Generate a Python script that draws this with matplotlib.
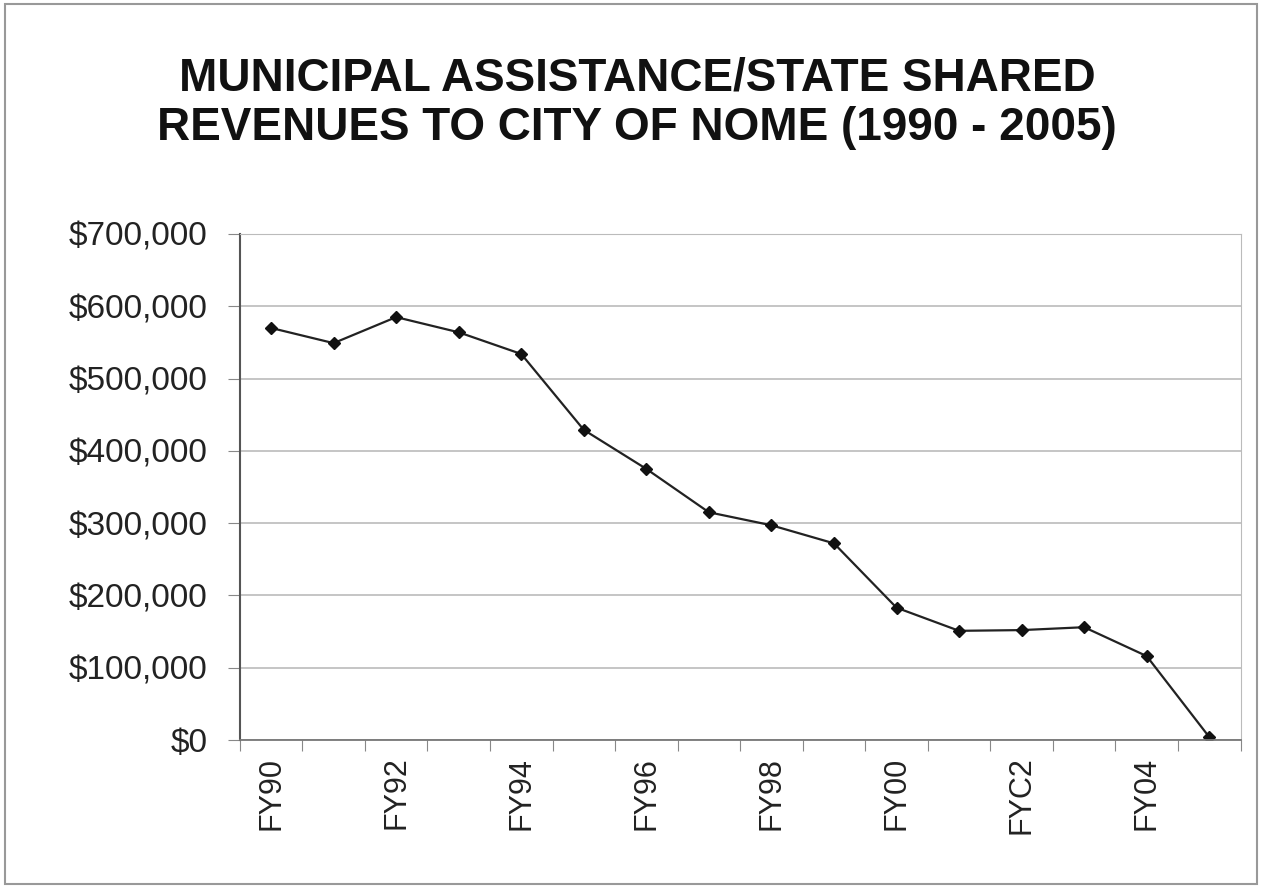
import matplotlib.pyplot as plt
from matplotlib.ticker import FuncFormatter, FixedLocator

years = ["FY90", "FY91", "FY92", "FY93", "FY94", "FY95", "FY96", "FY97",
         "FY98", "FY99", "FY00", "FY01", "FY02", "FY03", "FY04", "FY05"]
revenue = [570000, 549000, 585000, 564000, 534000, 429000, 375000, 315000,
           297000, 272000, 183000, 151000, 152000, 156000, 116000, 4000]
shown_labels = ["FY90", "FY92", "FY94", "FY96", "FY98", "FY00", "FYC2", "FY04"]

plt.rcParams['font.family'] = ['Liberation Sans', 'DejaVu Sans']

fig = plt.figure(figsize=(12.62, 8.88), dpi=100)
ax = fig.add_axes([0.190, 0.1667, 0.793, 0.5698])

x = list(range(len(years)))
ax.plot(x, revenue, color="#222222", lw=1.6, marker="D", ms=6,
        markerfacecolor="#111111", markeredgecolor="#111111")

ax.set_xlim(-0.5, len(years) - 0.5)
ax.set_ylim(0, 700000)
ax.set_yticks(range(0, 700001, 100000))
ax.yaxis.set_major_formatter(FuncFormatter(lambda v, p: f"${int(v):,}"))
ax.grid(axis="y", color="#bbbbbb", lw=1.2)
ax.set_axisbelow(True)

# category boundary ticks, labels on every other category
ax.xaxis.set_major_locator(FixedLocator([i - 0.5 for i in range(len(years) + 1)]))
ax.xaxis.set_major_formatter(FuncFormatter(lambda v, p: ""))
ax.set_xticks(x[::2], shown_labels, minor=True, rotation=90)
ax.tick_params(axis="x", which="major", length=8, color="#888888", direction="out")
ax.tick_params(axis="x", which="minor", length=0, labelsize=22, pad=12, colors="#222222")
ax.tick_params(axis="y", length=9, labelsize=24, colors="#222222", color="#888888", pad=14)

for side in ["top", "right"]:
    ax.spines[side].set_color("#bbbbbb")
ax.spines["left"].set_color("#555555")
ax.spines["left"].set_linewidth(1.5)
ax.spines["bottom"].set_color("#777777")
ax.spines["bottom"].set_linewidth(1.3)

fig.text(0.505, 0.884, "MUNICIPAL ASSISTANCE/STATE SHARED\nREVENUES TO CITY OF NOME (1990 - 2005)",
         ha="center", va="center", fontsize=33, fontweight="bold", color="#111111",
         linespacing=1.15)

fig.patches.append(plt.Rectangle((0.004, 0.004), 0.992, 0.992, transform=fig.transFigure,
                                 fill=False, edgecolor="#999999", lw=1.5))

fig.savefig("out.png", dpi=100)
